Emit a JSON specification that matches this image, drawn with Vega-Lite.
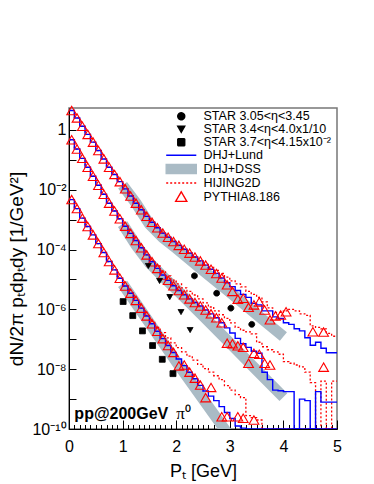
{
  "$schema": "https://vega.github.io/schema/vega-lite/v6.json",
  "width": 268,
  "height": 321,
  "autosize": {"type": "none"},
  "padding": {"left": 69, "top": 108, "right": 37, "bottom": 55},
  "background": "white",
  "config": {
    "font": "Liberation Sans",
    "view": {"stroke": "#777777", "strokeWidth": 1.5},
    "legend": {
      "padding": 0,
      "labelFont": "Liberation Sans",
      "labelFontSize": 12.5,
      "labelColor": "black",
      "labelLimit": 400,
      "symbolSize": 49,
      "symbolStrokeWidth": 1.4,
      "symbolOpacity": 1,
      "labelOffset": 16,
      "rowPadding": -1.2
    }
  },
  "datasets": {
    "lund": [
      {"s":"A","pt":0,"v":4.47},{"s":"A","pt":0.05,"v":4.47},{"s":"A","pt":0.15,"v":2.51},{"s":"A","pt":0.25,"v":1.32},{"s":"A","pt":0.35,"v":0.708},{"s":"A","pt":0.45,"v":0.389},{"s":"A","pt":0.55,"v":0.204},{"s":"A","pt":0.65,"v":0.107},{"s":"A","pt":0.75,"v":0.0562},{"s":"A","pt":0.85,"v":0.0324},{"s":"A","pt":0.95,"v":0.0186},
      {"s":"A","pt":1.05,"v":0.0107},{"s":"A","pt":1.15,"v":6.17e-3},{"s":"A","pt":1.25,"v":3.55e-3},{"s":"A","pt":1.35,"v":2.14e-3},{"s":"A","pt":1.45,"v":1.29e-3},{"s":"A","pt":1.55,"v":8.13e-4},{"s":"A","pt":1.65,"v":5.37e-4},{"s":"A","pt":1.75,"v":3.55e-4},{"s":"A","pt":1.85,"v":2.57e-4},{"s":"A","pt":1.95,"v":1.86e-4},
      {"s":"A","pt":2.05,"v":1.38e-4},{"s":"A","pt":2.15,"v":1.02e-4},{"s":"A","pt":2.25,"v":7.59e-5},{"s":"A","pt":2.35,"v":5.62e-5},{"s":"A","pt":2.45,"v":4.17e-5},{"s":"A","pt":2.55,"v":3.02e-5},{"s":"A","pt":2.65,"v":2.19e-5},{"s":"A","pt":2.75,"v":1.58e-5},{"s":"A","pt":2.85,"v":1.12e-5},{"s":"A","pt":2.95,"v":7.76e-6},
      {"s":"A","pt":3.05,"v":5.75e-6},{"s":"A","pt":3.15,"v":4.27e-6},{"s":"A","pt":3.25,"v":3.16e-6},{"s":"A","pt":3.35,"v":2.51e-6},{"s":"A","pt":3.45,"v":1.58e-6},{"s":"A","pt":3.55,"v":1.41e-6},{"s":"A","pt":3.65,"v":8.91e-7},{"s":"A","pt":3.75,"v":8.91e-7},{"s":"A","pt":3.85,"v":5.62e-7},{"s":"A","pt":3.95,"v":5.01e-7},
      {"s":"A","pt":4.05,"v":3.55e-7},{"s":"A","pt":4.15,"v":3.16e-7},{"s":"A","pt":4.25,"v":2.24e-7},{"s":"A","pt":4.35,"v":1.91e-7},{"s":"A","pt":4.45,"v":1.12e-7},{"s":"A","pt":4.55,"v":6.31e-8},{"s":"A","pt":4.65,"v":7.94e-8},{"s":"A","pt":4.75,"v":5.01e-8},{"s":"A","pt":4.85,"v":3.55e-8},{"s":"A","pt":4.95,"v":3.55e-8},{"s":"A","pt":5,"v":3.55e-8},
      {"s":"B","pt":0,"v":0.468},{"s":"B","pt":0.05,"v":0.468},{"s":"B","pt":0.15,"v":0.229},{"s":"B","pt":0.25,"v":0.112},{"s":"B","pt":0.35,"v":0.0562},{"s":"B","pt":0.45,"v":0.0282},{"s":"B","pt":0.55,"v":0.0141},{"s":"B","pt":0.65,"v":7.08e-3},{"s":"B","pt":0.75,"v":3.55e-3},{"s":"B","pt":0.85,"v":1.95e-3},{"s":"B","pt":0.95,"v":1.07e-3},
      {"s":"B","pt":1.05,"v":6.03e-4},{"s":"B","pt":1.15,"v":3.47e-4},{"s":"B","pt":1.25,"v":2.0e-4},{"s":"B","pt":1.35,"v":1.15e-4},{"s":"B","pt":1.45,"v":6.61e-5},{"s":"B","pt":1.55,"v":3.89e-5},{"s":"B","pt":1.65,"v":2.34e-5},{"s":"B","pt":1.75,"v":1.41e-5},{"s":"B","pt":1.85,"v":9.33e-6},{"s":"B","pt":1.95,"v":6.17e-6},
      {"s":"B","pt":2.05,"v":4.27e-6},{"s":"B","pt":2.15,"v":3.09e-6},{"s":"B","pt":2.25,"v":2.24e-6},{"s":"B","pt":2.35,"v":1.70e-6},{"s":"B","pt":2.45,"v":1.29e-6},{"s":"B","pt":2.55,"v":9.55e-7},{"s":"B","pt":2.65,"v":7.08e-7},{"s":"B","pt":2.75,"v":5.25e-7},{"s":"B","pt":2.85,"v":3.55e-7},{"s":"B","pt":2.95,"v":2.40e-7},
      {"s":"B","pt":3.05,"v":1.62e-7},{"s":"B","pt":3.15,"v":1.07e-7},{"s":"B","pt":3.25,"v":7.08e-8},{"s":"B","pt":3.35,"v":5.37e-8},{"s":"B","pt":3.45,"v":3.98e-8},{"s":"B","pt":3.55,"v":3.39e-8},{"s":"B","pt":3.65,"v":7.94e-9},{"s":"B","pt":3.75,"v":4.47e-9},{"s":"B","pt":3.85,"v":2.0e-9},{"s":"B","pt":3.95,"v":1.91e-9},
      {"s":"B","pt":4.05,"v":1.78e-9},{"s":"B","pt":4.15,"v":1.78e-9},{"s":"B","pt":4.25,"v":1e-10},{"s":"B","pt":4.35,"v":1.0e-9},{"s":"B","pt":4.45,"v":8.91e-10},{"s":"B","pt":4.55,"v":1e-10},{"s":"B","pt":4.65,"v":1.78e-9},{"s":"B","pt":4.75,"v":7.94e-10},{"s":"B","pt":4.85,"v":7.94e-10},{"s":"B","pt":4.95,"v":7.94e-10},{"s":"B","pt":5,"v":7.94e-10},
      {"s":"C","pt":0,"v":4.68e-3},{"s":"C","pt":0.05,"v":4.68e-3},{"s":"C","pt":0.15,"v":2.34e-3},{"s":"C","pt":0.25,"v":1.12e-3},{"s":"C","pt":0.35,"v":5.89e-4},{"s":"C","pt":0.45,"v":3.09e-4},{"s":"C","pt":0.55,"v":1.58e-4},{"s":"C","pt":0.65,"v":7.94e-5},{"s":"C","pt":0.75,"v":3.98e-5},{"s":"C","pt":0.85,"v":2.09e-5},{"s":"C","pt":0.95,"v":1.10e-5},
      {"s":"C","pt":1.05,"v":6.03e-6},{"s":"C","pt":1.15,"v":3.47e-6},{"s":"C","pt":1.25,"v":2.0e-6},{"s":"C","pt":1.35,"v":1.10e-6},{"s":"C","pt":1.45,"v":6.03e-7},{"s":"C","pt":1.55,"v":3.31e-7},{"s":"C","pt":1.65,"v":1.86e-7},{"s":"C","pt":1.75,"v":1.05e-7},{"s":"C","pt":1.85,"v":6.17e-8},{"s":"C","pt":1.95,"v":3.63e-8},
      {"s":"C","pt":2.05,"v":2.19e-8},{"s":"C","pt":2.15,"v":1.32e-8},{"s":"C","pt":2.25,"v":7.94e-9},{"s":"C","pt":2.35,"v":4.79e-9},{"s":"C","pt":2.45,"v":2.88e-9},{"s":"C","pt":2.55,"v":1.86e-9},{"s":"C","pt":2.65,"v":1.26e-9},{"s":"C","pt":2.75,"v":8.91e-10},{"s":"C","pt":2.85,"v":5.62e-10},{"s":"C","pt":2.95,"v":3.55e-10},
      {"s":"C","pt":3.05,"v":2.24e-10},{"s":"C","pt":3.15,"v":1.26e-10},{"s":"C","pt":3.25,"v":1.07e-10},{"s":"C","pt":3.35,"v":1e-10},{"s":"C","pt":5,"v":1e-10}
    ],
    "hij": [
      {"s":"A","pt":0,"v":4.47},{"s":"A","pt":0.05,"v":4.47},{"s":"A","pt":0.15,"v":2.51},{"s":"A","pt":0.25,"v":1.32},{"s":"A","pt":0.35,"v":0.708},{"s":"A","pt":0.45,"v":0.389},{"s":"A","pt":0.55,"v":0.204},{"s":"A","pt":0.65,"v":0.107},{"s":"A","pt":0.75,"v":0.0562},{"s":"A","pt":0.85,"v":0.0324},{"s":"A","pt":0.95,"v":0.0186},
      {"s":"A","pt":1.05,"v":0.0107},{"s":"A","pt":1.15,"v":6.17e-3},{"s":"A","pt":1.25,"v":3.55e-3},{"s":"A","pt":1.35,"v":2.14e-3},{"s":"A","pt":1.45,"v":1.29e-3},{"s":"A","pt":1.55,"v":8.13e-4},{"s":"A","pt":1.65,"v":5.37e-4},{"s":"A","pt":1.75,"v":3.55e-4},{"s":"A","pt":1.85,"v":2.57e-4},{"s":"A","pt":1.95,"v":1.86e-4},
      {"s":"A","pt":2.05,"v":1.38e-4},{"s":"A","pt":2.15,"v":1.02e-4},{"s":"A","pt":2.25,"v":7.59e-5},{"s":"A","pt":2.35,"v":5.62e-5},{"s":"A","pt":2.45,"v":4.17e-5},{"s":"A","pt":2.55,"v":3.16e-5},{"s":"A","pt":2.65,"v":2.51e-5},{"s":"A","pt":2.75,"v":2.0e-5},{"s":"A","pt":2.85,"v":1.58e-5},{"s":"A","pt":2.95,"v":1.20e-5},
      {"s":"A","pt":3.05,"v":8.91e-6},{"s":"A","pt":3.15,"v":7.08e-6},{"s":"A","pt":3.25,"v":5.62e-6},{"s":"A","pt":3.35,"v":3.98e-6},{"s":"A","pt":3.45,"v":3.16e-6},{"s":"A","pt":3.55,"v":2.51e-6},{"s":"A","pt":3.65,"v":1.78e-6},{"s":"A","pt":3.75,"v":1.12e-6},{"s":"A","pt":3.85,"v":7.94e-7},{"s":"A","pt":3.95,"v":7.94e-7},
      {"s":"A","pt":4.05,"v":8.91e-7},{"s":"A","pt":4.15,"v":1.0e-6},{"s":"A","pt":4.25,"v":8.91e-7},{"s":"A","pt":4.35,"v":7.08e-7},{"s":"A","pt":4.45,"v":6.31e-7},{"s":"A","pt":4.55,"v":2.82e-7},{"s":"A","pt":4.65,"v":2.51e-7},{"s":"A","pt":4.75,"v":2.24e-7},{"s":"A","pt":4.85,"v":1.58e-7},{"s":"A","pt":4.95,"v":1.26e-7},{"s":"A","pt":5,"v":1.26e-7},
      {"s":"B","pt":0,"v":0.468},{"s":"B","pt":0.05,"v":0.468},{"s":"B","pt":0.15,"v":0.229},{"s":"B","pt":0.25,"v":0.112},{"s":"B","pt":0.35,"v":0.0562},{"s":"B","pt":0.45,"v":0.0282},{"s":"B","pt":0.55,"v":0.0141},{"s":"B","pt":0.65,"v":7.08e-3},{"s":"B","pt":0.75,"v":3.55e-3},{"s":"B","pt":0.85,"v":1.95e-3},{"s":"B","pt":0.95,"v":1.07e-3},
      {"s":"B","pt":1.05,"v":6.03e-4},{"s":"B","pt":1.15,"v":3.47e-4},{"s":"B","pt":1.25,"v":2.0e-4},{"s":"B","pt":1.35,"v":1.15e-4},{"s":"B","pt":1.45,"v":6.61e-5},{"s":"B","pt":1.55,"v":4.17e-5},{"s":"B","pt":1.65,"v":2.82e-5},{"s":"B","pt":1.75,"v":1.91e-5},{"s":"B","pt":1.85,"v":1.32e-5},{"s":"B","pt":1.95,"v":9.55e-6},
      {"s":"B","pt":2.05,"v":7.08e-6},{"s":"B","pt":2.15,"v":5.25e-6},{"s":"B","pt":2.25,"v":3.98e-6},{"s":"B","pt":2.35,"v":3.02e-6},{"s":"B","pt":2.45,"v":2.24e-6},{"s":"B","pt":2.55,"v":1.66e-6},{"s":"B","pt":2.65,"v":1.20e-6},{"s":"B","pt":2.75,"v":8.91e-7},{"s":"B","pt":2.85,"v":6.61e-7},{"s":"B","pt":2.95,"v":5.01e-7},
      {"s":"B","pt":3.05,"v":3.55e-7},{"s":"B","pt":3.15,"v":2.51e-7},{"s":"B","pt":3.25,"v":2.0e-7},{"s":"B","pt":3.35,"v":1.78e-7},{"s":"B","pt":3.45,"v":1.51e-7},{"s":"B","pt":3.55,"v":7.94e-8},{"s":"B","pt":3.65,"v":5.62e-8},{"s":"B","pt":3.75,"v":4.47e-8},{"s":"B","pt":3.85,"v":3.80e-8},{"s":"B","pt":3.95,"v":3.16e-8},
      {"s":"B","pt":4.05,"v":1.78e-8},{"s":"B","pt":4.15,"v":1.58e-8},{"s":"B","pt":4.25,"v":1.38e-8},{"s":"B","pt":4.35,"v":1.20e-8},{"s":"B","pt":4.45,"v":7.94e-9},{"s":"B","pt":4.55,"v":3.55e-9},{"s":"B","pt":4.65,"v":1e-10},{"s":"B","pt":4.75,"v":3.98e-9},{"s":"B","pt":4.85,"v":1e-10},{"s":"B","pt":4.95,"v":3.98e-9},{"s":"B","pt":5,"v":3.98e-9},
      {"s":"C","pt":0,"v":4.68e-3},{"s":"C","pt":0.05,"v":4.68e-3},{"s":"C","pt":0.15,"v":2.34e-3},{"s":"C","pt":0.25,"v":1.12e-3},{"s":"C","pt":0.35,"v":5.89e-4},{"s":"C","pt":0.45,"v":3.09e-4},{"s":"C","pt":0.55,"v":1.58e-4},{"s":"C","pt":0.65,"v":7.94e-5},{"s":"C","pt":0.75,"v":3.98e-5},{"s":"C","pt":0.85,"v":2.09e-5},{"s":"C","pt":0.95,"v":1.10e-5},
      {"s":"C","pt":1.05,"v":6.03e-6},{"s":"C","pt":1.15,"v":3.47e-6},{"s":"C","pt":1.25,"v":2.0e-6},{"s":"C","pt":1.35,"v":1.10e-6},{"s":"C","pt":1.45,"v":6.31e-7},{"s":"C","pt":1.55,"v":3.98e-7},{"s":"C","pt":1.65,"v":2.51e-7},{"s":"C","pt":1.75,"v":1.66e-7},{"s":"C","pt":1.85,"v":1.12e-7},{"s":"C","pt":1.95,"v":7.59e-8},
      {"s":"C","pt":2.05,"v":5.25e-8},{"s":"C","pt":2.15,"v":3.80e-8},{"s":"C","pt":2.25,"v":2.75e-8},{"s":"C","pt":2.35,"v":2.0e-8},{"s":"C","pt":2.45,"v":1.45e-8},{"s":"C","pt":2.55,"v":1.05e-8},{"s":"C","pt":2.65,"v":7.94e-9},{"s":"C","pt":2.75,"v":6.03e-9},{"s":"C","pt":2.85,"v":4.47e-9},{"s":"C","pt":2.95,"v":2.82e-9},
      {"s":"C","pt":3.05,"v":2.0e-9},{"s":"C","pt":3.15,"v":1.41e-9},{"s":"C","pt":3.25,"v":1.12e-9},{"s":"C","pt":3.35,"v":2.82e-10},{"s":"C","pt":3.45,"v":2.40e-10},{"s":"C","pt":3.55,"v":2.0e-10},{"s":"C","pt":3.65,"v":1e-10},{"s":"C","pt":5,"v":1e-10}
    ],
    "py": [
      {"s":"A","pt":0.05,"v":4.47},{"s":"A","pt":0.15,"v":2.51},{"s":"A","pt":0.25,"v":1.32},{"s":"A","pt":0.35,"v":0.708},{"s":"A","pt":0.45,"v":0.389},{"s":"A","pt":0.55,"v":0.204},{"s":"A","pt":0.65,"v":0.107},{"s":"A","pt":0.75,"v":0.0562},{"s":"A","pt":0.85,"v":0.0324},{"s":"A","pt":0.95,"v":0.0186},
      {"s":"A","pt":1.05,"v":0.0107},{"s":"A","pt":1.15,"v":6.17e-3},{"s":"A","pt":1.25,"v":3.55e-3},{"s":"A","pt":1.35,"v":2.14e-3},{"s":"A","pt":1.45,"v":1.29e-3},{"s":"A","pt":1.55,"v":8.13e-4},{"s":"A","pt":1.65,"v":5.37e-4},{"s":"A","pt":1.75,"v":3.55e-4},{"s":"A","pt":1.85,"v":2.57e-4},{"s":"A","pt":1.95,"v":1.86e-4},
      {"s":"A","pt":2.05,"v":1.38e-4},{"s":"A","pt":2.15,"v":1.02e-4},{"s":"A","pt":2.25,"v":7.59e-5},{"s":"A","pt":2.35,"v":5.62e-5},{"s":"A","pt":2.45,"v":4.17e-5},{"s":"A","pt":2.55,"v":3.02e-5},{"s":"A","pt":2.65,"v":2.19e-5},{"s":"A","pt":2.75,"v":1.58e-5},{"s":"A","pt":2.85,"v":1.12e-5},{"s":"A","pt":2.95,"v":6.61e-6},
      {"s":"A","pt":3.05,"v":3.98e-6},{"s":"A","pt":3.15,"v":2.19e-6},{"s":"A","pt":3.25,"v":2.34e-6},{"s":"A","pt":3.35,"v":1.17e-6},{"s":"A","pt":3.45,"v":1.41e-6},{"s":"A","pt":3.55,"v":1.78e-6},{"s":"A","pt":3.65,"v":9.55e-7},{"s":"A","pt":3.75,"v":4.47e-7},{"s":"A","pt":3.85,"v":6.03e-7},{"s":"A","pt":3.95,"v":6.46e-7},
      {"s":"A","pt":4.05,"v":8.32e-7},{"s":"A","pt":4.55,"v":1.78e-7},{"s":"A","pt":4.75,"v":1.74e-7},
      {"s":"B","pt":0.05,"v":0.468},{"s":"B","pt":0.15,"v":0.229},{"s":"B","pt":0.25,"v":0.112},{"s":"B","pt":0.35,"v":0.0562},{"s":"B","pt":0.45,"v":0.0282},{"s":"B","pt":0.55,"v":0.0141},{"s":"B","pt":0.65,"v":7.08e-3},{"s":"B","pt":0.75,"v":3.55e-3},{"s":"B","pt":0.85,"v":1.95e-3},{"s":"B","pt":0.95,"v":1.07e-3},
      {"s":"B","pt":1.05,"v":6.03e-4},{"s":"B","pt":1.15,"v":3.47e-4},{"s":"B","pt":1.25,"v":2.0e-4},{"s":"B","pt":1.35,"v":1.15e-4},{"s":"B","pt":1.45,"v":6.61e-5},{"s":"B","pt":1.55,"v":3.89e-5},{"s":"B","pt":1.65,"v":2.34e-5},{"s":"B","pt":1.75,"v":1.41e-5},{"s":"B","pt":1.85,"v":9.33e-6},{"s":"B","pt":1.95,"v":6.17e-6},
      {"s":"B","pt":2.05,"v":4.27e-6},{"s":"B","pt":2.15,"v":3.09e-6},{"s":"B","pt":2.25,"v":2.24e-6},{"s":"B","pt":2.35,"v":1.70e-6},{"s":"B","pt":2.45,"v":1.29e-6},{"s":"B","pt":2.55,"v":9.55e-7},{"s":"B","pt":2.65,"v":7.08e-7},{"s":"B","pt":2.75,"v":5.25e-7},{"s":"B","pt":2.85,"v":3.55e-7},{"s":"B","pt":2.95,"v":7.41e-8},
      {"s":"B","pt":3.05,"v":7.08e-8},{"s":"B","pt":3.15,"v":6.03e-8},{"s":"B","pt":3.25,"v":5.37e-8},{"s":"B","pt":3.35,"v":1.58e-8},{"s":"B","pt":3.45,"v":3.39e-8},{"s":"B","pt":3.55,"v":3.16e-8},{"s":"B","pt":3.65,"v":1.58e-8},{"s":"B","pt":3.75,"v":1.38e-8},{"s":"B","pt":4.75,"v":1.17e-8},
      {"s":"C","pt":0.05,"v":4.68e-3},{"s":"C","pt":0.15,"v":2.34e-3},{"s":"C","pt":0.25,"v":1.12e-3},{"s":"C","pt":0.35,"v":5.89e-4},{"s":"C","pt":0.45,"v":3.09e-4},{"s":"C","pt":0.55,"v":1.58e-4},{"s":"C","pt":0.65,"v":7.94e-5},{"s":"C","pt":0.75,"v":3.98e-5},{"s":"C","pt":0.85,"v":2.09e-5},{"s":"C","pt":0.95,"v":1.10e-5},
      {"s":"C","pt":1.05,"v":6.03e-6},{"s":"C","pt":1.15,"v":3.47e-6},{"s":"C","pt":1.25,"v":2.0e-6},{"s":"C","pt":1.35,"v":1.10e-6},{"s":"C","pt":1.45,"v":6.03e-7},{"s":"C","pt":1.55,"v":3.31e-7},{"s":"C","pt":1.65,"v":1.86e-7},{"s":"C","pt":1.75,"v":1.05e-7},{"s":"C","pt":1.85,"v":6.17e-8},{"s":"C","pt":1.95,"v":3.63e-8},
      {"s":"C","pt":2.05,"v":1.29e-8},{"s":"C","pt":2.15,"v":1.38e-8},{"s":"C","pt":2.25,"v":7.94e-9},{"s":"C","pt":2.35,"v":5.01e-9},{"s":"C","pt":2.45,"v":2.95e-9},{"s":"C","pt":2.55,"v":1.12e-9},{"s":"C","pt":2.65,"v":2.45e-9},{"s":"C","pt":2.85,"v":2.57e-10},{"s":"C","pt":2.95,"v":2.57e-10},{"s":"C","pt":3.15,"v":2.57e-10},{"s":"C","pt":3.25,"v":2.29e-10},{"s":"C","pt":3.45,"v":2.0e-10}
    ],
    "dss": [
      {"s":"A","pt":1.0,"v":1.41e-2},{"s":"A","pt":1.25,"v":3.55e-3},{"s":"A","pt":1.5,"v":7.08e-4},{"s":"A","pt":1.75,"v":2.51e-4},{"s":"A","pt":2.0,"v":1.10e-4},{"s":"A","pt":2.5,"v":2.0e-5},{"s":"A","pt":3.0,"v":3.72e-6},{"s":"A","pt":3.5,"v":6.76e-7},{"s":"A","pt":4.0,"v":1.23e-7},
      {"s":"B","pt":1.0,"v":7.08e-4},{"s":"B","pt":1.25,"v":1.41e-4},{"s":"B","pt":1.5,"v":3.55e-5},{"s":"B","pt":1.75,"v":1.26e-5},{"s":"B","pt":2.0,"v":4.68e-6},{"s":"B","pt":2.5,"v":6.03e-7},{"s":"B","pt":3.0,"v":7.59e-8},{"s":"B","pt":3.5,"v":9.33e-9},{"s":"B","pt":4.0,"v":1.17e-9},
      {"s":"C","pt":1.0,"v":7.08e-6},{"s":"C","pt":1.5,"v":3.55e-7},{"s":"C","pt":2.0,"v":1.78e-8},{"s":"C","pt":2.5,"v":1.0e-9},{"s":"C","pt":3.0,"v":5.62e-11},{"s":"C","pt":3.5,"v":3.16e-12},{"s":"C","pt":4.0,"v":1.78e-13}
    ],
    "star": [
      {"series":"STAR 3.05<η<3.45","pt":2.34,"v":1.32e-5},{"series":"STAR 3.05<η<3.45","pt":2.755,"v":3.47e-6},{"series":"STAR 3.05<η<3.45","pt":3.02,"v":1.10e-6},{"series":"STAR 3.05<η<3.45","pt":3.41,"v":3.16e-7},
      {"series":"STAR 3.4<η<4.0x1/10","pt":1.48,"v":2.82e-5},{"series":"STAR 3.4<η<4.0x1/10","pt":1.69,"v":8.91e-6},{"series":"STAR 3.4<η<4.0x1/10","pt":1.88,"v":2.57e-6},{"series":"STAR 3.4<η<4.0x1/10","pt":2.09,"v":8.13e-7},{"series":"STAR 3.4<η<4.0x1/10","pt":2.26,"v":2.04e-7},
      {"series":"STAR 3.7<η<4.15x10⁻²","pt":1.01,"v":1.82e-6},{"series":"STAR 3.7<η<4.15x10⁻²","pt":1.19,"v":6.17e-7},{"series":"STAR 3.7<η<4.15x10⁻²","pt":1.37,"v":1.91e-7},{"series":"STAR 3.7<η<4.15x10⁻²","pt":1.56,"v":6.17e-8},{"series":"STAR 3.7<η<4.15x10⁻²","pt":1.74,"v":2.14e-8},{"series":"STAR 3.7<η<4.15x10⁻²","pt":1.94,"v":7.08e-9}
    ]
  },
  "layer": [
    {
      "encoding": {
        "x": {
          "field": "pt", "type": "quantitative",
          "scale": {"domain": [0, 5], "nice": false, "zero": false},
          "axis": {
            "values": [0,0.1,0.2,0.3,0.4,0.5,0.6,0.7,0.8,0.9,1,1.1,1.2,1.3,1.4,1.5,1.6,1.7,1.8,1.9,2,2.1,2.2,2.3,2.4,2.5,2.6,2.7,2.8,2.9,3,3.1,3.2,3.3,3.4,3.5,3.6,3.7,3.8,3.9,4,4.1,4.2,4.3,4.4,4.5,4.6,4.7,4.8,4.9,5],
            "labelExpr": "abs(datum.value - round(datum.value)) < 0.01 ? format(datum.value, 'd') : ''",
            "tickSize": {"condition": {"test": "abs(datum.value - round(datum.value)) < 0.01", "value": -9}, "value": -4.5},
            "labelPadding": 18, "labelFontSize": 16, "labelColor": "black",
            "labelOverlap": false, "labelFlush": false, "labelBound": false,
            "tickColor": "black", "domainColor": "black", "grid": false,
            "title": "Pₜ [GeV]", "titleFontSize": 18, "titleFontWeight": "normal", "titleColor": "black", "titlePadding": 4
          }
        },
        "y": {
          "field": "v", "type": "quantitative",
          "scale": {"type": "log", "domain": [1e-10, 5.4], "nice": false},
          "axis": {
            "values": [1e-10,1e-9,1e-8,1e-7,1e-6,1e-5,1e-4,1e-3,1e-2,1e-1,1],
            "labelExpr": "round(log(datum.value)/LN10) == 0 ? '1' : round(log(datum.value)/LN10) == -2 ? '10⁻²' : round(log(datum.value)/LN10) == -4 ? '10⁻⁴' : round(log(datum.value)/LN10) == -6 ? '10⁻⁶' : round(log(datum.value)/LN10) == -8 ? '10⁻⁸' : round(log(datum.value)/LN10) == -10 ? '10⁻¹⁰' : ''",
            "tickSize": -7, "labelPadding": 10, "labelFontSize": 16, "labelColor": "black",
            "labelOverlap": false, "labelFlush": false, "labelBound": false,
            "tickColor": "black", "domainColor": "black", "grid": false,
            "title": "dN/2π pₜdpₜdy [1/GeV²]", "titleFontSize": 19, "titleFontWeight": "normal", "titleColor": "black", "titlePadding": 5
          }
        }
      },
      "layer": [
        {
          "data": {"name": "dss"},
          "mark": {"type": "line", "stroke": "#aabbc5", "strokeWidth": 11, "strokeCap": "butt", "clip": true},
          "encoding": {"detail": {"field": "s"}}
        },
        {
          "data": {"name": "hij"},
          "mark": {"type": "line", "interpolate": "step", "stroke": "#ff0000", "strokeWidth": 1.3, "strokeDash": [2, 2], "clip": true},
          "encoding": {"detail": {"field": "s"}}
        },
        {
          "data": {"name": "lund"},
          "mark": {"type": "line", "interpolate": "step", "stroke": "#0000ff", "strokeWidth": 1.4, "clip": true},
          "encoding": {"detail": {"field": "s"}}
        },
        {
          "data": {"name": "py"},
          "mark": {"type": "point", "shape": "triangle-up", "size": 95, "filled": false, "stroke": "#ff0000", "strokeWidth": 1.1, "opacity": 1}
        },
        {
          "data": {"name": "star"},
          "mark": {"type": "point", "size": 34, "opacity": 1, "strokeWidth": 1},
          "encoding": {
            "shape": {"field": "series", "type": "nominal",
              "scale": {"domain": ["STAR 3.05<η<3.45","STAR 3.4<η<4.0x1/10","STAR 3.7<η<4.15x10⁻²","DHJ+Lund","DHJ+DSS","HIJING2D","PYTHIA8.186"],
                        "range": ["circle","triangle-down","square","M-4.3,0H4.3","M-4.3,-1.3H4.3V1.3H-4.3Z","M-4.3,0H4.3","M0,-1.45L1.6,1.3L-1.6,1.3Z"]},
              "legend": {"title": null, "orient": "none", "legendX": 106, "legendY": 2}},
            "fill": {"field": "series", "type": "nominal",
              "scale": {"domain": ["STAR 3.05<η<3.45","STAR 3.4<η<4.0x1/10","STAR 3.7<η<4.15x10⁻²","DHJ+Lund","DHJ+DSS","HIJING2D","PYTHIA8.186"],
                        "range": ["black","black","black","transparent","#aabbc5","transparent","transparent"]},
              "legend": {"title": null, "orient": "none", "legendX": 106, "legendY": 2}},
            "stroke": {"field": "series", "type": "nominal",
              "scale": {"domain": ["STAR 3.05<η<3.45","STAR 3.4<η<4.0x1/10","STAR 3.7<η<4.15x10⁻²","DHJ+Lund","DHJ+DSS","HIJING2D","PYTHIA8.186"],
                        "range": ["black","black","black","#0000ff","#aabbc5","#ff0000","#ff0000"]},
              "legend": {"title": null, "orient": "none", "legendX": 106, "legendY": 2}},
            "strokeDash": {"field": "series", "type": "nominal",
              "scale": {"domain": ["STAR 3.05<η<3.45","STAR 3.4<η<4.0x1/10","STAR 3.7<η<4.15x10⁻²","DHJ+Lund","DHJ+DSS","HIJING2D","PYTHIA8.186"],
                        "range": [[1,0],[1,0],[1,0],[1,0],[1,0],[2,2],[1,0]]},
              "legend": {"title": null, "orient": "none", "legendX": 106, "legendY": 2}}
          }
        }
      ]
    },
    {
      "encoding": {
        "x": {
          "type": "quantitative",
          "axis": {
            "values": [0,0.1,0.2,0.3,0.4,0.5,0.6,0.7,0.8,0.9,1,1.1,1.2,1.3,1.4,1.5,1.6,1.7,1.8,1.9,2,2.1,2.2,2.3,2.4,2.5,2.6,2.7,2.8,2.9,3,3.1,3.2,3.3,3.4,3.5,3.6,3.7,3.8,3.9,4,4.1,4.2,4.3,4.4,4.5,4.6,4.7,4.8,4.9,5],
            "labelExpr": "abs(datum.value - round(datum.value)) < 0.01 ? format(datum.value, 'd') : ''",
            "tickSize": {"condition": {"test": "abs(datum.value - round(datum.value)) < 0.01", "value": -9}, "value": -4.5},
            "labelPadding": 18, "labelFontSize": 16, "labelColor": "black",
            "labelOverlap": false, "labelFlush": false, "labelBound": false,
            "tickColor": "black", "domainColor": "black", "grid": false,
            "title": "Pₜ [GeV]", "titleFontSize": 18, "titleFontWeight": "normal", "titleColor": "black", "titlePadding": 4
          }
        },
        "y": {
          "type": "quantitative",
          "axis": {
            "values": [1e-10,1e-9,1e-8,1e-7,1e-6,1e-5,1e-4,1e-3,1e-2,1e-1,1],
            "labelExpr": "round(log(datum.value)/LN10) == 0 ? '1' : round(log(datum.value)/LN10) == -2 ? '10⁻²' : round(log(datum.value)/LN10) == -4 ? '10⁻⁴' : round(log(datum.value)/LN10) == -6 ? '10⁻⁶' : round(log(datum.value)/LN10) == -8 ? '10⁻⁸' : round(log(datum.value)/LN10) == -10 ? '10⁻¹⁰' : ''",
            "tickSize": -7, "labelPadding": 10, "labelFontSize": 16, "labelColor": "black",
            "labelOverlap": false, "labelFlush": false, "labelBound": false,
            "tickColor": "black", "domainColor": "black", "grid": false,
            "title": "dN/2π pₜdpₜdy [1/GeV²]", "titleFontSize": 19, "titleFontWeight": "normal", "titleColor": "black", "titlePadding": 5
          }
        }
      },
      "layer": [
        {
          "data": {"values": [{"label": "pp@200GeV"}]},
          "mark": {"type": "text", "font": "Liberation Sans", "fontWeight": "bold", "fontSize": 16, "align": "left", "baseline": "alphabetic", "color": "black"},
          "encoding": {"x": {"datum": 0.1}, "y": {"datum": 2.2e-10}, "text": {"field": "label"}}
        },
        {
          "data": {"values": [{"label": "π⁰"}]},
          "mark": {"type": "text", "font": "Liberation Serif", "fontSize": 17, "align": "left", "baseline": "alphabetic", "color": "black"},
          "encoding": {"x": {"datum": 2.0}, "y": {"datum": 2.2e-10}, "text": {"field": "label"}}
        }
      ]
    }
  ]
}
